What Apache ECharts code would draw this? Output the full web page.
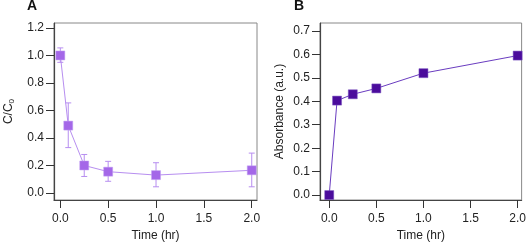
<!DOCTYPE html>
<html>
<head>
<meta charset="utf-8">
<script src="https://cdn.jsdelivr.net/npm/echarts@6/dist/echarts.min.js"></script>
<style>html,body{margin:0;padding:0;background:#fff}#c{width:529px;height:247px}</style>
</head>
<body>
<div id="c"></div>
<script>
const timeA = [0, 0.083, 0.25, 0.5, 1.0, 2.0];
const ratioA = [1.0, 0.49, 0.20, 0.155, 0.13, 0.165];
const errLowA = [0.95, 0.33, 0.12, 0.085, 0.045, 0.045];
const errHighA = [1.055, 0.655, 0.28, 0.23, 0.22, 0.29];
const timeB = [0, 0.083, 0.25, 0.5, 1.0, 2.0];
const absB = [0.0, 0.403, 0.43, 0.455, 0.52, 0.595];
const xTicks = [0, 0.5, 1.0, 1.5, 2.0];
const yTicksA = [0, 0.2, 0.4, 0.6, 0.8, 1.0, 1.2];
const yTicksB = [0, 0.1, 0.2, 0.3, 0.4, 0.5, 0.6, 0.7];

const font = 'Liberation Sans, Arial, sans-serif';
const colA = '#a467e8', lineA = '#b78ef0';
const colB = '#4b0c9c', lineB = '#6a3cc0';

function xAxisCfg(grid, min, max) {
  return {
    type: 'value', gridIndex: grid, min: min, max: max,
    name: 'Time (hr)', nameLocation: 'middle', nameGap: 30,
    nameTextStyle: {fontFamily: font, fontSize: 12, color: '#222'},
    axisLine: {show: true, onZero: false, lineStyle: {color: '#444', width: 1.2}},
    axisTick: {show: true, length: 8, inside: false, customValues: xTicks, lineStyle: {color: '#333'}},
    axisLabel: {customValues: xTicks, margin: 13, fontFamily: font, fontSize: 12, color: '#222',
      formatter: v => v.toFixed(1)},
    splitLine: {show: false}
  };
}
function yAxisCfg(grid, min, max, ticks, name, gap) {
  return {
    type: 'value', gridIndex: grid, min: min, max: max,
    name: name, nameLocation: 'middle', nameGap: gap,
    nameTextStyle: {fontFamily: font, fontSize: 12, color: '#222',
      rich: {sub: {fontSize: 8, fontFamily: font, color: '#222', verticalAlign: 'bottom', padding: [7, 0, 0, 0]}}},
    axisLine: {show: true, onZero: false, lineStyle: {color: '#444', width: 1.2}},
    axisTick: {show: true, length: 8, customValues: ticks, lineStyle: {color: '#333'}},
    axisLabel: {customValues: ticks, margin: 10, fontFamily: font, fontSize: 12, color: '#222',
      formatter: v => v.toFixed(1)},
    splitLine: {show: false}
  };
}

const errData = timeA.map((t, i) => [t, errLowA[i], errHighA[i]]);

const option = {
  animation: false,
  backgroundColor: '#fff',
  title: [
    {text: 'A', left: 27, top: -1, padding: 0, textStyle: {fontFamily: font, fontSize: 14, fontWeight: 'bold', color: '#111'}},
    {text: 'B', left: 294, top: -1, padding: 0, textStyle: {fontFamily: font, fontSize: 14, fontWeight: 'bold', color: '#111'}}
  ],
  grid: [
    {left: 54, top: 23, width: 203, height: 177, show: true, borderColor: '#888', borderWidth: 1, backgroundColor: 'transparent'},
    {left: 320, top: 23, width: 204, height: 177, show: true, borderColor: '#888', borderWidth: 1, backgroundColor: 'transparent'}
  ],
  xAxis: [xAxisCfg(0, -0.066, 2.055), xAxisCfg(1, -0.098, 2.042)],
  yAxis: [
    yAxisCfg(0, -0.051, 1.236, yTicksA, 'C/C{sub|0}', 38),
    yAxisCfg(1, -0.021, 0.734, yTicksB, 'Absorbance (a.u.)', 34)
  ],
  series: [
    {
      type: 'custom', xAxisIndex: 0, yAxisIndex: 0, z: 1,
      data: errData,
      renderItem: function (params, api) {
        const x = api.value(0);
        const lo = api.coord([x, api.value(1)]);
        const hi = api.coord([x, api.value(2)]);
        const w = 3;
        const st = {stroke: lineA, lineWidth: 1};
        return {type: 'group', children: [
          {type: 'line', shape: {x1: lo[0], y1: lo[1], x2: hi[0], y2: hi[1]}, style: st},
          {type: 'line', shape: {x1: lo[0] - w, y1: lo[1], x2: lo[0] + w, y2: lo[1]}, style: st},
          {type: 'line', shape: {x1: hi[0] - w, y1: hi[1], x2: hi[0] + w, y2: hi[1]}, style: st}
        ]};
      }
    },
    {
      type: 'line', xAxisIndex: 0, yAxisIndex: 0, z: 2,
      data: timeA.map((t, i) => [t, ratioA[i]]),
      symbol: 'rect', symbolSize: 9,
      lineStyle: {color: lineA, width: 1},
      itemStyle: {color: colA, borderColor: '#c3a0f4', borderWidth: 0.5}
    },
    {
      type: 'line', xAxisIndex: 1, yAxisIndex: 1, z: 2,
      data: timeB.map((t, i) => [t, absB[i]]),
      symbol: 'rect', symbolSize: 9,
      lineStyle: {color: lineB, width: 1},
      itemStyle: {color: colB, borderColor: '#7a55c0', borderWidth: 0.5}
    }
  ]
};
const chart = echarts.init(document.getElementById('c'), null, {renderer: 'canvas'});
chart.setOption(option);
</script>
</body>
</html>
